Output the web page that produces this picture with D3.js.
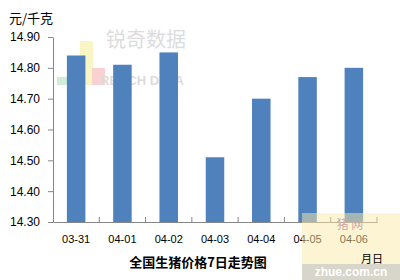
<!DOCTYPE html>
<html>
<head>
<meta charset="utf-8">
<script src="https://cdn.jsdelivr.net/npm/d3@7"></script>
<style>
  body { margin: 0; background: #fff; }
  svg { display: block; font-family: "Liberation Sans", Arial, sans-serif; }
  .axis path, .axis line { stroke: #868686; }
  .axis text { fill: #000; }
</style>
</head>
<body>
<svg id="chart"></svg>
<script>
// data
const dates = ['03-31', '04-01', '04-02', '04-03', '04-04', '04-05', '04-06']
const prices = [14.84, 14.81, 14.85, 14.51, 14.70, 14.77, 14.80]
const yTicks = [14.30, 14.40, 14.50, 14.60, 14.70, 14.80, 14.90]

const width = 400
const height = 280
const margin = { top: 37, right: 23, bottom: 58, left: 53 }
const w = width - margin.left - margin.right
const h = height - margin.top - margin.bottom

const svg = d3.select('#chart')
  .attr('width', width)
  .attr('height', height)

// faint watermark behind the bars
const wm = svg.append('g').attr('opacity', 0.5)
wm.append('rect').attr('x', 57).attr('y', 77).attr('width', 12).attr('height', 8).attr('fill', '#a6dcb0')
wm.append('rect').attr('x', 80).attr('y', 41).attr('width', 13).attr('height', 44).attr('fill', '#f7ec8a')
wm.append('rect').attr('x', 92).attr('y', 68).attr('width', 13).attr('height', 17).attr('fill', '#f9a3a3')
wm.append('text').attr('x', 106).attr('y', 47)
  .attr('font-size', 20).attr('fill', '#bbb')
  .style('font-family', '"Noto Sans CJK SC", sans-serif')
  .text('锐奇数据')
wm.append('text').attr('x', 100).attr('y', 85)
  .attr('font-size', 13).attr('font-weight', 'bold').attr('fill', '#bbb')
  .text('REACH DATA')

const chart = svg.append('g')
  .attr('transform', `translate(${margin.left}, ${margin.top})`)

const x = d3.scaleBand()
  .domain(dates)
  .range([0, w])
  .paddingInner(0.6)
  .paddingOuter(0.3)

const y = d3.scaleLinear()
  .domain([14.30, 14.90])
  .range([h, 0])

// bars
chart.selectAll('.bar')
  .data(prices)
  .enter().append('rect')
  .attr('class', 'bar')
  .attr('x', (d, i) => x(dates[i]))
  .attr('y', d => y(d))
  .attr('width', x.bandwidth())
  .attr('height', d => h - y(d))
  .attr('fill', '#4f81bd')

// y axis
const yAxis = d3.axisLeft(y)
  .tickValues(yTicks)
  .tickFormat(d3.format('.2f'))
  .tickSize(5)
  .tickSizeOuter(0)
  .tickPadding(8)

chart.append('g')
  .attr('class', 'y axis')
  .call(yAxis)
  .call(g => g.selectAll('text').attr('font-size', 12))

// x axis, ticks sit between the categories
const xAxis = d3.axisBottom(x)
  .tickSize(0)
  .tickPadding(13)

const gx = chart.append('g')
  .attr('class', 'x axis')
  .attr('transform', `translate(0, ${h})`)
  .call(xAxis)
gx.selectAll('text').attr('font-size', 11)
gx.selectAll('.sep')
  .data(d3.range(1, dates.length + 1))
  .enter().append('line')
  .attr('class', 'sep')
  .attr('x1', i => i * x.step())
  .attr('x2', i => i * x.step())
  .attr('y1', 0)
  .attr('y2', -5)
  .attr('stroke', '#868686')

// titles
svg.append('text')
  .attr('x', 9).attr('y', 23)
  .attr('font-size', 13)
  .style('font-family', '"Noto Sans CJK SC", sans-serif')
  .text('元/千克')

svg.append('text')
  .attr('x', 198).attr('y', 267)
  .attr('text-anchor', 'middle')
  .attr('font-size', 13).attr('font-weight', 'bold')
  .style('font-family', '"Noto Sans CJK SC", sans-serif')
  .text('全国生猪价格7日走势图')

// bottom-right watermark
const wm2 = svg.append('g')
wm2.append('rect').attr('x', 302).attr('y', 213).attr('width', 98).attr('height', 67)
  .attr('fill', '#fbe9a8').attr('opacity', 0.5)
wm2.append('rect').attr('x', 302).attr('y', 264).attr('width', 98).attr('height', 16)
  .attr('fill', '#c8c8c8').attr('opacity', 0.7)
wm2.append('text').attr('x', 350).attr('y', 229)
  .attr('text-anchor', 'middle').attr('font-size', 12).attr('fill', '#c9a9a9')
  .style('font-family', '"Noto Sans CJK SC", sans-serif')
  .text('猪 网')
wm2.append('text').attr('x', 351).attr('y', 276)
  .attr('text-anchor', 'middle').attr('font-size', 12).attr('font-weight', 'bold').attr('fill', '#fff')
  .text('zhue.com.cn')

svg.append('text')
  .attr('x', 361).attr('y', 263)
  .attr('font-size', 11)
  .style('font-family', '"Noto Sans CJK SC", sans-serif')
  .text('月日')
</script>
</body>
</html>
